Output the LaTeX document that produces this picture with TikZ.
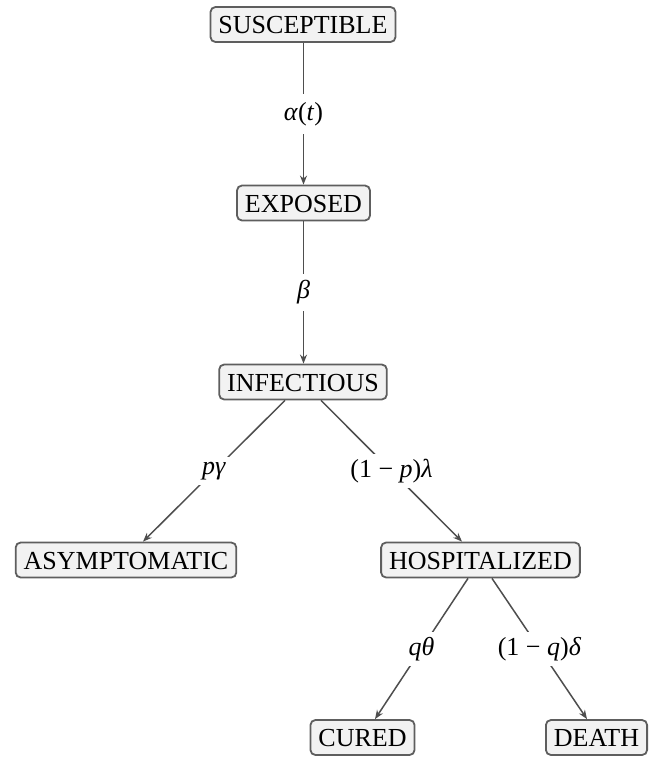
\documentclass[tikz,border=0pt]{standalone}
\usepackage{fontspec}
\setmainfont{Liberation Serif}
\usetikzlibrary{arrows.meta}
\definecolor{boxfill}{HTML}{F2F2F2}
\definecolor{boxline}{HTML}{5E5E5E}
\definecolor{edgecol}{HTML}{4E4E4E}
\begin{document}
\begin{tikzpicture}[x=1pt,y=-1pt,
  state/.style={draw=boxline, fill=boxfill, line width=1.8pt, rounded corners=5pt,
    font=\fontsize{26}{30}\selectfont, text height=18pt, text depth=0pt,
    inner xsep=8pt, inner ysep=8.5pt},
  flow/.style={draw=edgecol, line width=1.5pt, -{Stealth[length=9pt,width=7pt]}},
  rate/.style={fill=white, font=\fontsize{26}{30}\selectfont, inner sep=5pt}]
\useasboundingbox (0,0) rectangle (650,758);
\node[state] (S) at (303,24.5) {SUSCEPTIBLE};
\node[state] (E) at (303.5,203) {EXPOSED};
\node[state] (I) at (303,382) {INFECTIOUS};
\node[state] (A) at (126,560) {ASYMPTOMATIC};
\node[state] (H) at (480.5,560) {HOSPITALIZED};
\node[state] (C) at (362.5,737.5) {CURED};
\node[state] (D) at (596.5,737.5) {DEATH};
\draw[flow] (S.south -| E.north) -- node[rate, inner ysep=8pt] {\textit{α}(\textit{t})} (E.north);
\draw[flow] (E.south) -- node[rate, inner ysep=7pt] {\textit{β}} (I.north -| E.south);
\draw[flow] ([xshift=-18pt]I.south) -- node[rate] {\textit{pγ}} ([xshift=17pt]A.north);
\draw[flow] ([xshift=18pt]I.south) -- node[rate] {(1 − \textit{p})\textit{λ}} ([xshift=-18.5pt]H.north);
\draw[flow] ([xshift=-12.5pt]H.south) -- node[rate] {\textit{qθ}} ([xshift=12.5pt]C.north);
\draw[flow] ([xshift=11.5pt]H.south) -- node[rate] {(1 − \textit{q})\textit{δ}} ([xshift=-9.5pt]D.north);
\end{tikzpicture}
\end{document}
